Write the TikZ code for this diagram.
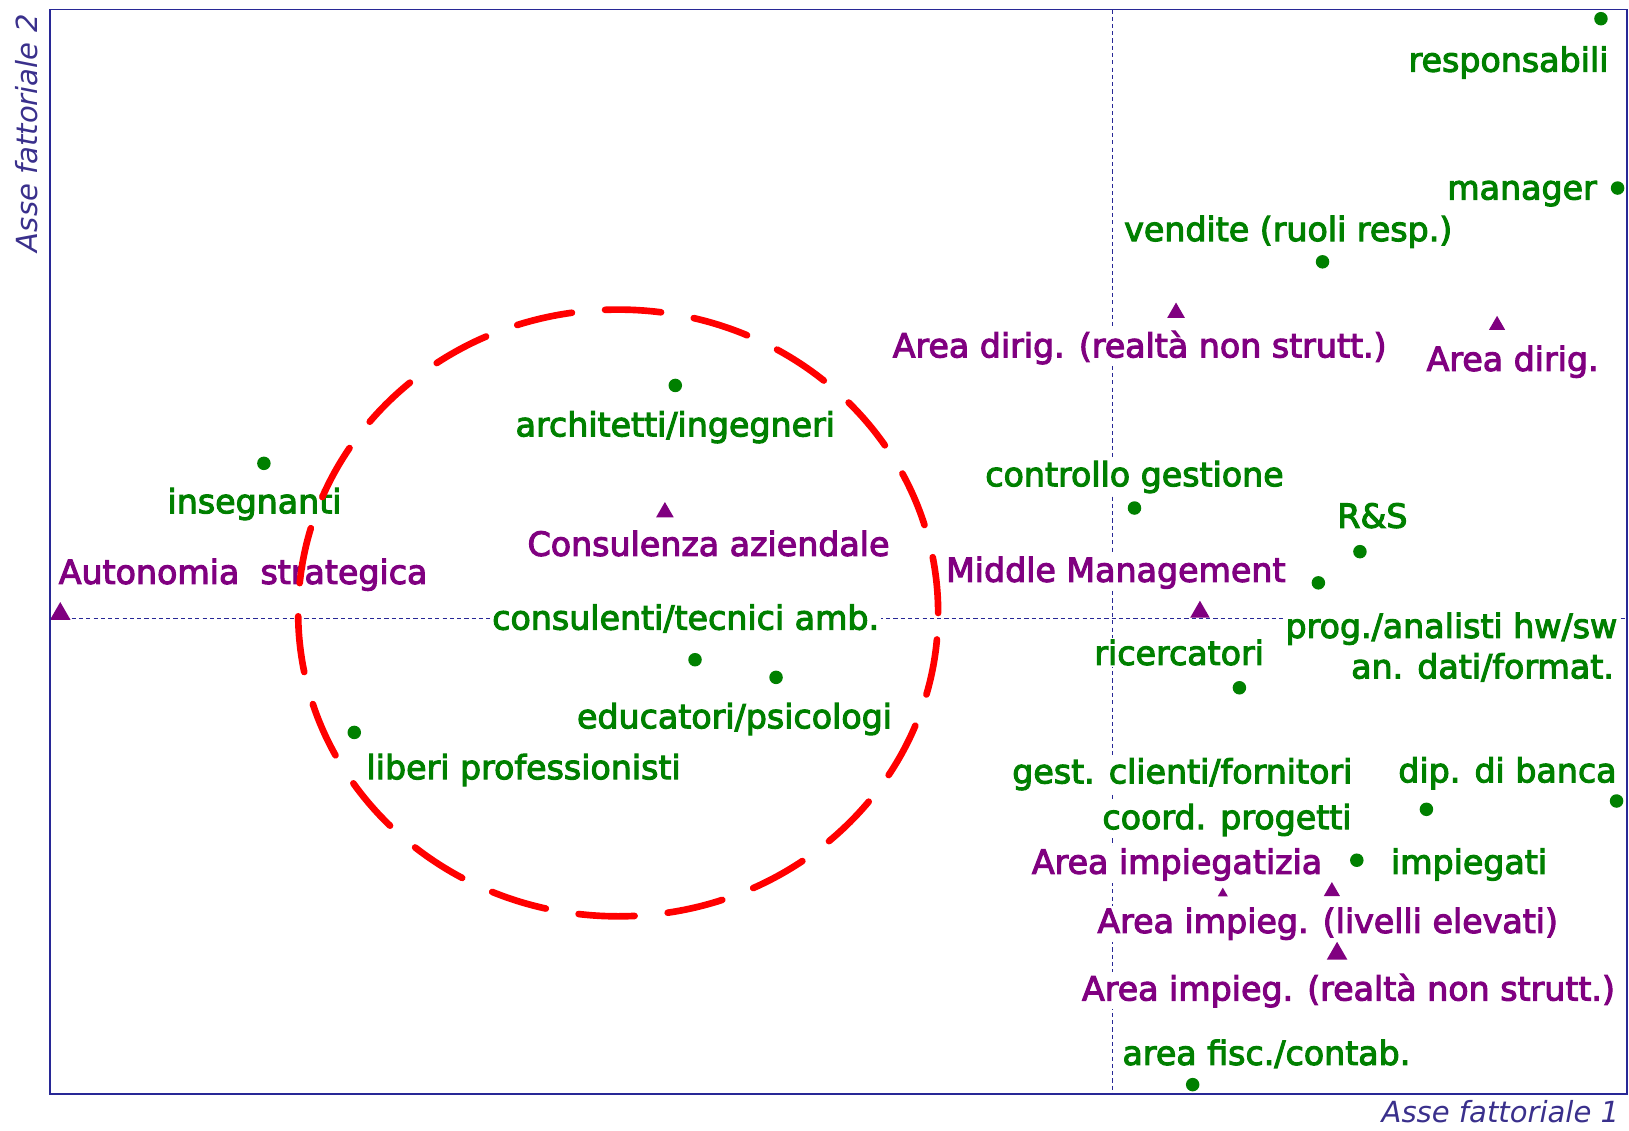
\documentclass[tikz,border=0pt]{standalone}
\usepackage{fontspec}
\setmainfont{DejaVu Sans}
\newfontfamily\labfont{DejaVu Sans}[FakeBold=3.2]
\usetikzlibrary{shapes.geometric}
\definecolor{lgreen}{RGB}{0,128,0}
\definecolor{lpurple}{RGB}{128,0,128}
\definecolor{axblue}{RGB}{58,48,140}
\definecolor{frameblue}{RGB}{40,40,150}
\definecolor{redc}{RGB}{255,0,0}
\tikzset{
  lab/.style={font=\labfont\fontsize{16pt}{19pt}\selectfont, fill=white, inner xsep=1pt, inner ysep=1pt, anchor=base},
  glab/.style={lab, text=lgreen},
  plab/.style={lab, text=lpurple},
  gdot/.style={circle, fill=lgreen, inner sep=0pt, minimum size=6.5pt},
  tri/.style={regular polygon, regular polygon sides=3, fill=lpurple, inner sep=0pt, minimum size=#1},
  axlab/.style={font=\itshape\fontsize{14pt}{17pt}\selectfont, text=axblue, inner sep=0pt},
  dotline/.style={frameblue, line width=0.6pt, dash pattern=on 2pt off 1.5pt},
  framebox/.style={frameblue, line width=0.75pt},
  redcirc/.style={redc, line width=3.2pt, line cap=round, dash pattern=on 27pt off 16pt}
}
\begin{document}
\begin{tikzpicture}[x=0.5pt,y=-0.5pt]
\useasboundingbox (0,0) rectangle (1568,1088);
\fill[white] (0,0) rectangle (1568,1088);
% frame corners and axis ends
\coordinate (nw) at (48,9);
\coordinate (se) at (1566,1053);
\coordinate (hl) at (48,595);
\coordinate (hr) at (1566,595);
\coordinate (vt) at (1071,9);
\coordinate (vb) at (1071,1053);
\draw[dotline] (hl) -- (hr);
\draw[dotline] (vt) -- (vb);

% labels
\node[glab] (l1) at (1452,69) {responsabili};
\node[glab] (l2) at (1465,192) {manager};
\node[glab] (l3) at (1240,232) {vendite (ruoli resp.)};
\node[plab] (l4) at (1097,344) {Area dirig. (realtà non strutt.)};
\node[plab] (l5) at (1456,357) {Area dirig.};
\node[glab] (l6) at (650,420) {architetti/ingegneri};
\node[glab] (l7) at (245,494) {insegnanti};
\node[glab] (l8) at (1092,468) {controllo gestione};
\node[glab] (l9) at (1321,508) {R\&S};
\node[plab] (l10) at (682,535) {Consulenza aziendale};
\node[plab] (l11) at (234,562) {Autonomia~~strategica};
\node[plab] (l12) at (1074,560) {Middle Management};
\node[glab] (l13) at (660,606) {consulenti/tecnici amb.};
\node[glab] (l14) at (1397,614) {prog./analisti hw/sw};
\node[glab] (l15) at (1135,640) {ricercatori};
\node[glab] (l16) at (1427,653) {an. dati/format.};
\node[glab] (l17) at (707,701) {educatori/psicologi};
\node[glab] (l18) at (504,750) {liberi professionisti};
\node[glab] (l19) at (1138,754) {gest. clienti/fornitori};
\node[glab] (l20) at (1451,753) {dip. di banca};
\node[glab] (l21) at (1181,798) {coord. progetti};
\node[plab] (l22) at (1133,841) {Area impiegatizia};
\node[glab] (l23) at (1414,841) {impiegati};
\node[plab] (l24) at (1278,898) {Area impieg. (livelli elevati)};
\node[plab] (l25) at (1298,963) {Area impieg. (realtà non strutt.)};
\node[glab] (l26) at (1219,1025) {area fisc./contab.};

% green dots
\node[gdot] (d1) at (1541,18) {};
\node[gdot] (d2) at (1557,181) {};
\node[gdot] (d3) at (1273,252) {};
\node[gdot] (d4) at (650,371) {};
\node[gdot] (d5) at (254,446) {};
\node[gdot] (d6) at (1092,489) {};
\node[gdot] (d7) at (1309,531) {};
\node[gdot] (d8) at (1269,561) {};
\node[gdot] (d9) at (1193,662) {};
\node[gdot] (d10) at (669,635) {};
\node[gdot] (d11) at (747,652) {};
\node[gdot] (d12) at (341,705) {};
\node[gdot] (d13) at (1556,771) {};
\node[gdot] (d14) at (1373,779) {};
\node[gdot] (d15) at (1306,828) {};
\node[gdot] (d16) at (1148,1044) {};

% purple triangles
\node[tri=11.5pt] (t1) at (58,591) {};
\node[tri=9.8pt] (t2) at (640,493) {};
\node[tri=9.8pt] (t3) at (1132,301) {};
\node[tri=9pt] (t4) at (1441,313) {};
\node[tri=10.8pt] (t5) at (1155,589) {};
\node[tri=5.6pt] (t6) at (1177,860) {};
\node[tri=9pt] (t7) at (1282,858) {};
\node[tri=11.5pt] (t8) at (1287,918) {};

% frame
\draw[framebox] (nw) rectangle (se);

% axis labels
\node[axlab, rotate=90, anchor=base west] (ay) at (36,243) {Asse fattoriale 2};
\node[axlab, anchor=base east] (ax) at (1559,1080) {Asse fattoriale 1};

% red dashed circle
\draw[redcirc] (595,590) ellipse [x radius=154pt, y radius=146pt];
\end{tikzpicture}
\end{document}
